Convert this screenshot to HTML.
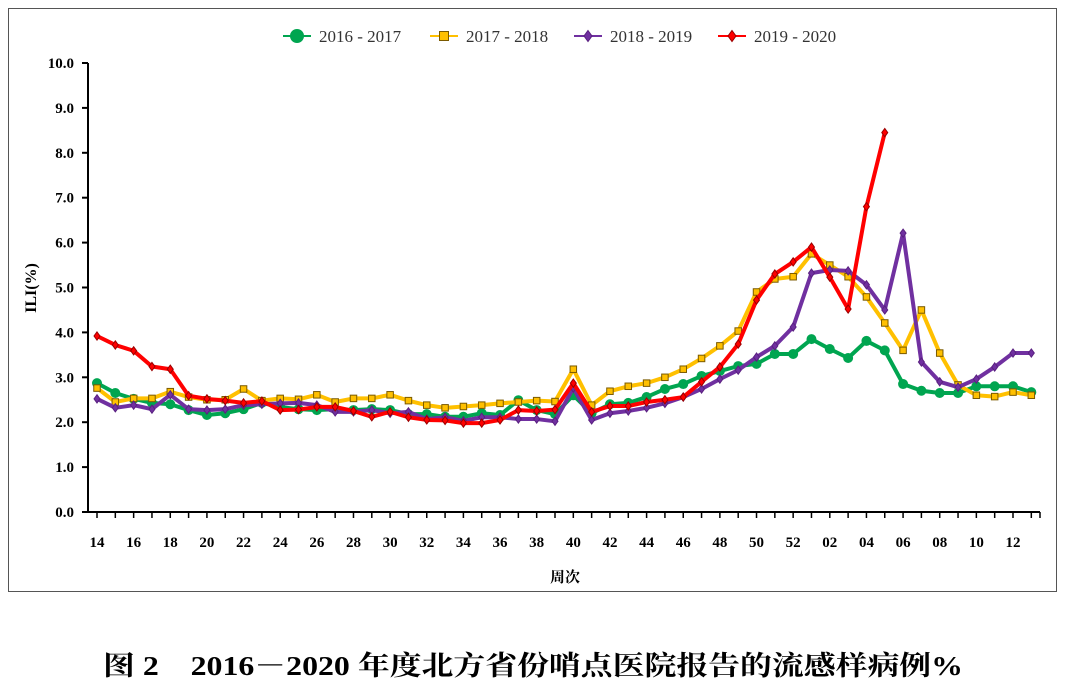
<!DOCTYPE html>
<html><head><meta charset="utf-8"><style>
body{margin:0;background:#fff;width:1065px;height:691px;overflow:hidden}
svg{display:block}
text{font-family:"Liberation Serif","Noto Serif CJK SC",serif}
</style></head><body>
<svg id="chart" width="1065" height="691">
<rect x="8.5" y="8.5" width="1048" height="583" fill="none" stroke="#555" stroke-width="1"/>
<g id="axes"></g>
<g id="series"></g>
<g id="legend"></g>
<text x="36" y="288" transform="rotate(-90 36 288)" text-anchor="middle" font-size="16" font-weight="bold">ILI(%)</text>
<text x="565" y="582" text-anchor="middle" font-size="15" font-weight="bold" font-family="Noto Serif CJK SC, serif">周次</text>
<text x="103" y="675" font-size="27" font-weight="bold" textLength="860" lengthAdjust="spacingAndGlyphs">图 2　2016－2020 年度北方省份哨点医院报告的流感样病例%</text>
</svg>
<script>
const weeks=[14,15,16,17,18,19,20,21,22,23,24,25,26,27,28,29,30,31,32,33,34,35,36,37,38,39,40,41,42,43,44,45,46,47,48,49,50,51,52,1,2,3,4,5,6,7,8,9,10,11,12,13];
const yTicks=[0,1,2,3,4,5,6,7,8,9,10];
const seriesNames=["2016 - 2017","2017 - 2018","2018 - 2019","2019 - 2020"];
const s2016=[2.87,2.65,2.52,2.43,2.4,2.27,2.16,2.2,2.29,2.43,2.34,2.29,2.27,2.29,2.27,2.29,2.27,2.18,2.18,2.12,2.12,2.2,2.16,2.49,2.27,2.18,2.6,2.2,2.4,2.43,2.56,2.74,2.85,3.03,3.14,3.25,3.3,3.52,3.52,3.85,3.63,3.43,3.81,3.6,2.85,2.7,2.65,2.65,2.8,2.8,2.8,2.67];
const s2017=[2.76,2.45,2.53,2.53,2.68,2.56,2.5,2.5,2.74,2.48,2.53,2.51,2.61,2.45,2.53,2.53,2.61,2.48,2.38,2.32,2.35,2.38,2.42,2.45,2.48,2.46,3.18,2.38,2.69,2.8,2.87,3.0,3.18,3.42,3.7,4.03,4.9,5.19,5.24,5.75,5.5,5.24,4.79,4.21,3.6,4.5,3.54,2.83,2.6,2.57,2.67,2.6];
const s2018=[2.52,2.32,2.38,2.29,2.61,2.29,2.27,2.29,2.38,2.4,2.42,2.43,2.38,2.23,2.23,2.27,2.2,2.23,2.07,2.11,2.03,2.11,2.11,2.07,2.07,2.02,2.76,2.05,2.2,2.25,2.32,2.42,2.56,2.74,2.96,3.16,3.45,3.7,4.12,5.32,5.39,5.37,5.06,4.5,6.21,3.34,2.9,2.78,2.96,3.23,3.54,3.54];
const s2019=[3.92,3.72,3.59,3.24,3.18,2.59,2.52,2.48,2.43,2.47,2.27,2.28,2.34,2.34,2.25,2.12,2.23,2.11,2.05,2.04,1.98,1.98,2.05,2.27,2.25,2.28,2.87,2.23,2.36,2.36,2.45,2.5,2.56,2.9,3.23,3.74,4.72,5.3,5.57,5.9,5.23,4.52,6.8,8.45];
const colors=["#00A550","#FFC000","#7030A0","#FF0000"];
const markers=["circle","square","diamond","diamond"];
const NS="http://www.w3.org/2000/svg";
const X0=97,XS=18.32,Y0=512,YS=44.9;
const xp=i=>X0+i*XS, yp=v=>Y0-v*YS;
function mk(tag,attrs,parent){const e=document.createElementNS(NS,tag);for(const k in attrs)e.setAttribute(k,attrs[k]);parent.appendChild(e);return e;}
const ax=document.getElementById('axes');
let e=mk('line',{x1:88,y1:63,x2:88,y2:512.5,stroke:'#000','stroke-width':2},ax);


e=mk('line',{x1:87,y1:512,x2:1040,y2:512,stroke:'#000','stroke-width':2},ax);


yTicks.forEach(v=>{
  mk('line',{x1:82,y1:yp(v),x2:88,y2:yp(v),stroke:'#000','stroke-width':2},ax);
  const t=mk('text',{x:74,y:yp(v)+5,'text-anchor':'end','font-size':15,'font-weight':'bold'},ax);
  t.textContent=v.toFixed(1);
  
  
});
weeks.forEach((w,i)=>{
  mk('line',{x1:xp(i),y1:512,x2:xp(i),y2:518,stroke:'#000','stroke-width':1.5},ax);
  if(i%2===0){
    const t=mk('text',{x:xp(i),y:547,'text-anchor':'middle','font-size':15,'font-weight':'bold'},ax);
    t.textContent=String(w).padStart(2,'0');
    
    
  }
});
mk('line',{x1:1040,y1:512,x2:1040,y2:518,stroke:'#000','stroke-width':1.5},ax);
function marker(type,x,y,c,g,s){
  if(type==='circle')return mk('circle',{cx:x,cy:y,r:s*0.5,fill:c,stroke:c},g);
  if(type==='square')return mk('rect',{x:x-s/2+0.5,y:y-s/2+0.5,width:s-1,height:s-1,fill:'#FFC000',stroke:'#7a5a00','stroke-width':1},g);
  return mk('path',{d:`M${x},${y-s*0.55}L${x+s*0.4},${y}L${x},${y+s*0.55}L${x-s*0.4},${y}Z`,fill:c,stroke:c==='#FF0000'?'#900':'#5a2080','stroke-width':1},g);
}
const sg=document.getElementById('series');
const all=[s2016,s2017,s2018,s2019];
all.forEach((data,k)=>{
  const g=mk('g',{},sg);
  
  
  const pts=data.map((v,i)=>xp(i)+','+yp(v)).join(' ');
  mk('polyline',{points:pts,fill:'none',stroke:colors[k],'stroke-width':4,'stroke-linejoin':'round','stroke-linecap':'round'},g);
  data.forEach((v,i)=>{
    const m=marker(markers[k],xp(i),yp(v),colors[k],g,k===0?9:7.5);
    
    
  });
});
const lg=document.getElementById('legend');
const lx=[283,430,574,718];
seriesNames.forEach((n,k)=>{
  const g=mk('g',{},lg);
  
  
  mk('line',{x1:lx[k],y1:36,x2:lx[k]+28,y2:36,stroke:colors[k],'stroke-width':2},g);
  marker(markers[k],lx[k]+14,36,colors[k],g,k===0?13:10);
  const t=mk('text',{x:lx[k]+36,y:42,'font-size':17,fill:'#333'},g);
  t.textContent=n;
});
</script>
</body></html>
